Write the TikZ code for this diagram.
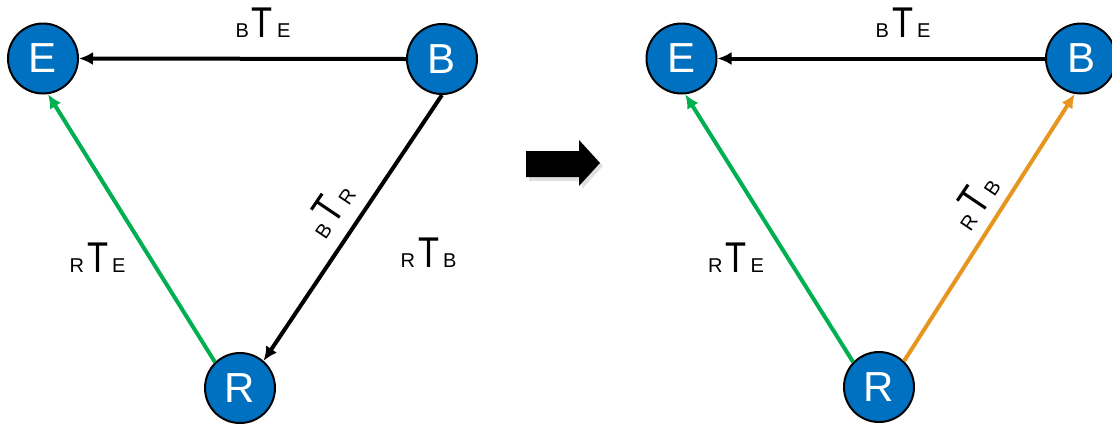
\documentclass[tikz,border=0pt]{standalone}
\usepackage{fontspec}
\setmainfont{Liberation Sans}
\usetikzlibrary{arrows.meta}
\definecolor{nodeblue}{RGB}{0,112,192}
\definecolor{edgegreen}{RGB}{0,176,80}
\definecolor{edgeorange}{RGB}{230,150,30}
\newcommand{\smallL}[1]{{\fontsize{20}{20}\selectfont #1}}
\newcommand{\tlbl}[2]{\smallL{#1}\hspace{3pt}{\fontsize{43}{43}\selectfont\scalebox{0.8}[1]{T}}\hspace{4pt}\smallL{#2}}
\begin{document}
\begin{tikzpicture}[x=1pt,y=-1pt,
  frame/.style={circle,fill=nodeblue,draw=black,line width=2pt,minimum size=70pt,inner sep=0pt,
    text=white,font=\fontsize{42}{42}\selectfont},
  lbl/.style={inner sep=0pt,anchor=base},
  rlbl/.style={inner sep=0pt},
  conn/.style={line width=4pt,-{Latex[length=14pt,width=13pt]}},
  bigarrow/.style={fill=black}]
\useasboundingbox (0,0) rectangle (1112,429);
% ---- left diagram
\node[frame] (E1) at (43,58.5) {E};
\node[frame] (B1) at (442,59) {B};
\node[frame] (R1) at (240,388) {R};
\draw[conn,black] (B1.180) -- (E1.0);
\draw[conn,edgegreen] (R1.134) -- (E1.-82);
\draw[conn,black] (B1.-90) -- (R1.49);
\node[lbl] (l1) at (263,37) {\tlbl{B}{E}};
\node[lbl] (l2) at (97.5,272) {\tlbl{R}{E}};
\node[lbl] (l3) at (428.5,267) {\tlbl{R}{B}};
\node[rlbl,rotate=56] (l4) at (329,209) {\tlbl{B}{R}};
% ---- big arrow
\fill[black!12] (529,155) -- (582,155) -- (582,143) -- (603,166) -- (582,189) -- (582,181) -- (529,181) -- cycle;
\fill[bigarrow] (526,151) -- (579,151) -- (579,140) -- (600,163) -- (579,186) -- (579,177) -- (526,177) -- cycle;
% ---- right diagram
\node[frame] (E2) at (681.5,58.5) {E};
\node[frame] (B2) at (1081,58.5) {B};
\node[frame] (R2) at (879,387) {R};
\draw[conn,black] (B2.180) -- (E2.0);
\draw[conn,edgegreen] (R2.136) -- (E2.-84);
\draw[conn,edgeorange] (R2.46) -- (B2.-100);
\node[lbl] (l5) at (903,37) {\tlbl{B}{E}};
\node[lbl] (l6) at (736,272) {\tlbl{R}{E}};
\node[rlbl,rotate=56] (l7) at (974,201) {\tlbl{R}{B}};
\end{tikzpicture}
\end{document}
